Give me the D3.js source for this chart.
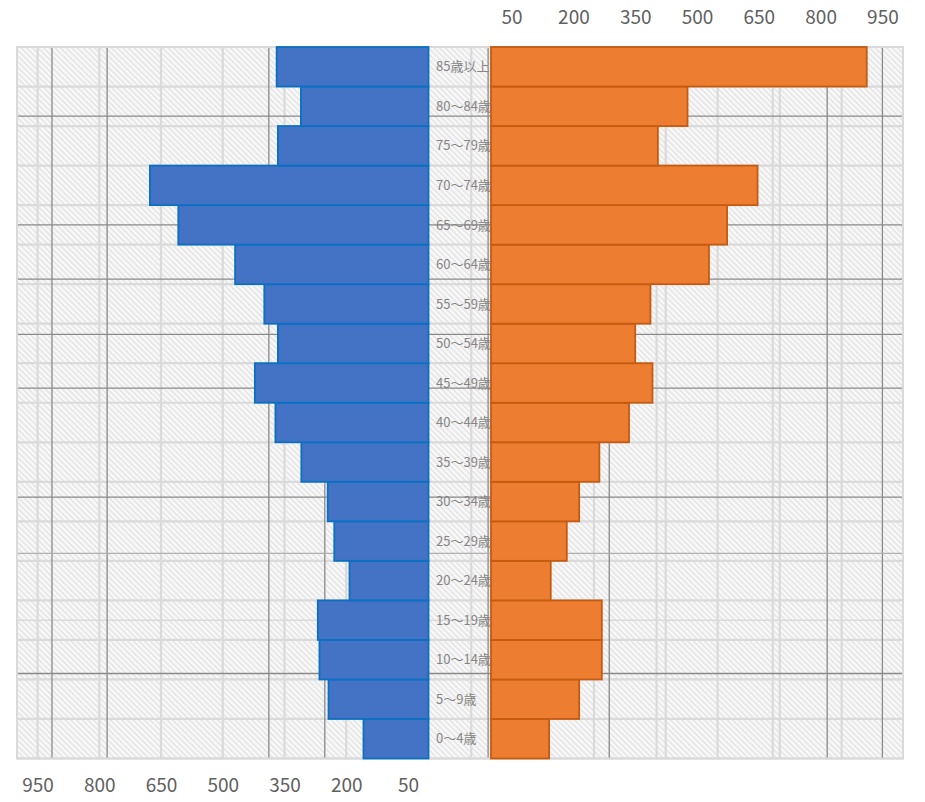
<!DOCTYPE html>
<html>
<head>
<meta charset="utf-8">
<script src="https://cdn.jsdelivr.net/npm/d3@7"></script>
<style>
  html, body { margin: 0; padding: 0; background: #fff; }
  svg { display: block; }
</style>
</head>
<body>
<svg id="chart" width="925" height="802"></svg>
<script>
// ---- data (ascending age) ----
const categories = ["0～4歳","5～9歳","10～14歳","15～19歳","20～24歳","25～29歳","30～34歳","35～39歳","40～44歳","45～49歳","50～54歳","55～59歳","60～64歳","65～69歳","70～74歳","75～79歳","80～84歳","85歳以上"];
const leftValues  = [158, 243, 265, 269, 192, 229, 245, 309, 372, 422, 366, 399, 470, 608, 677, 366, 310, 369];
const rightValues = [141, 214, 269, 269, 145, 184, 214, 263, 335, 392, 350, 387, 529, 573, 647, 405, 477, 912];
const tickValues  = [50, 200, 350, 500, 650, 800, 950];

// background texture lines (in axis units / row units)
const leftDarkLines   = [915, 781, 388, 252];
const rightLightLines = [250, 402, 424, 550, 684, 701, 851];
const rightDarkLines  = [287, 816, 950];
const gapLightLines   = [-48];
const gapDarkLines    = [-7];
const rowDarkLines    = [1.75, 4.5, 5.87, 7.27, 8.63, 11.39, 15.85];
const rowMediumLines  = [12.81];
const rowLightLines   = [14.5];

const svg = d3.select("#chart");
const font = "'Noto Sans CJK JP', 'Noto Sans', sans-serif";

const plotTop = 47, plotBottom = 758.5, plotLeft = 17, plotRight = 903;
const xLeft  = d3.scaleLinear().domain([0, 1000]).range([428.5, plotLeft]);
const xRight = d3.scaleLinear().domain([0, 1000]).range([491, plotRight]);
const y = d3.scaleBand().domain(categories.slice().reverse()).range([plotTop, plotBottom]).padding(0);
const rowY = d3.scaleLinear().domain([0, categories.length]).range([plotTop, plotBottom]);

// hatch pattern
const defs = svg.append("defs");
const pat = defs.append("pattern").attr("id", "hatch").attr("patternUnits", "userSpaceOnUse")
  .attr("width", 4).attr("height", 4).attr("patternTransform", "rotate(-45)");
pat.append("rect").attr("width", 4).attr("height", 4).attr("fill", "#f9f9f9");
pat.append("line").attr("x1", 1).attr("y1", 0).attr("x2", 1).attr("y2", 4)
  .attr("stroke", "#e4e4e4").attr("stroke-width", 1.6);

svg.append("rect").attr("x", plotLeft).attr("y", plotTop)
  .attr("width", plotRight - plotLeft).attr("height", plotBottom - plotTop)
  .attr("fill", "url(#hatch)");

const grid = svg.append("g");
function vline(x, color, w) {
  grid.append("line").attr("x1", x).attr("x2", x).attr("y1", plotTop).attr("y2", plotBottom)
    .attr("stroke", color).attr("stroke-width", w);
}
function hline(yy, color, w) {
  grid.append("line").attr("x1", plotLeft).attr("x2", plotRight).attr("y1", yy).attr("y2", yy)
    .attr("stroke", color).attr("stroke-width", w);
}
const light = "#dadada", dark = "#8a8a8a", medium = "#b0b0b0";
d3.range(0, categories.length + 1).forEach(i => hline(rowY(i), light, 2.2));
rowLightLines.forEach(r => hline(rowY(r), light, 1.5));
tickValues.forEach(v => vline(xLeft(v), light, 2.2));
rightLightLines.forEach(v => vline(xRight(v), light, 2.2));
gapLightLines.forEach(v => vline(xRight(v), light, 2.2));
leftDarkLines.forEach(v => vline(xLeft(v), dark, 1.3));
rightDarkLines.forEach(v => vline(xRight(v), dark, 1.3));
gapDarkLines.forEach(v => vline(xRight(v), dark, 1.3));
rowDarkLines.forEach(r => hline(rowY(r), dark, 1.3));
rowMediumLines.forEach(r => hline(rowY(r), medium, 1.3));
svg.append("rect").attr("x", plotLeft).attr("y", plotTop)
  .attr("width", plotRight - plotLeft).attr("height", plotBottom - plotTop)
  .attr("fill", "none").attr("stroke", light).attr("stroke-width", 2);

// category labels (under the bars)
svg.append("g").selectAll("text").data(categories).join("text")
  .attr("x", 436)
  .attr("y", d => y(d) + y.bandwidth() / 2)
  .attr("dy", "0.36em")
  .attr("font-family", font).attr("font-size", 13).attr("fill", "#858585")
  .text(d => d);

// left bars
svg.append("g").selectAll("rect").data(categories).join("rect")
  .attr("x", (d, i) => xLeft(leftValues[i]))
  .attr("y", d => y(d))
  .attr("width", (d, i) => xLeft(0) - xLeft(leftValues[i]))
  .attr("height", y.bandwidth())
  .attr("fill", "#4472C4").attr("stroke", "#0A70C2").attr("stroke-width", 1.8);

// right bars
svg.append("g").selectAll("rect").data(categories).join("rect")
  .attr("x", xRight(0))
  .attr("y", d => y(d))
  .attr("width", (d, i) => xRight(rightValues[i]) - xRight(0))
  .attr("height", y.bandwidth())
  .attr("fill", "#ED7D31").attr("stroke", "#C55A11").attr("stroke-width", 1.8);

// axes tick labels
const axisLeft = d3.axisBottom(xLeft).tickValues(tickValues).tickSize(0).tickPadding(0);
const gL = svg.append("g").attr("transform", "translate(0,785)").call(axisLeft);
const axisRight = d3.axisTop(xRight).tickValues(tickValues).tickSize(0).tickPadding(0);
const gR = svg.append("g").attr("transform", "translate(0,24)").call(axisRight);
[gL, gR].forEach(g => {
  g.select(".domain").remove();
  g.selectAll("text").attr("font-family", font).attr("font-size", 19).attr("fill", "#606060");
});
gL.selectAll("text").attr("dy", "0.35em");
</script>
</body>
</html>
